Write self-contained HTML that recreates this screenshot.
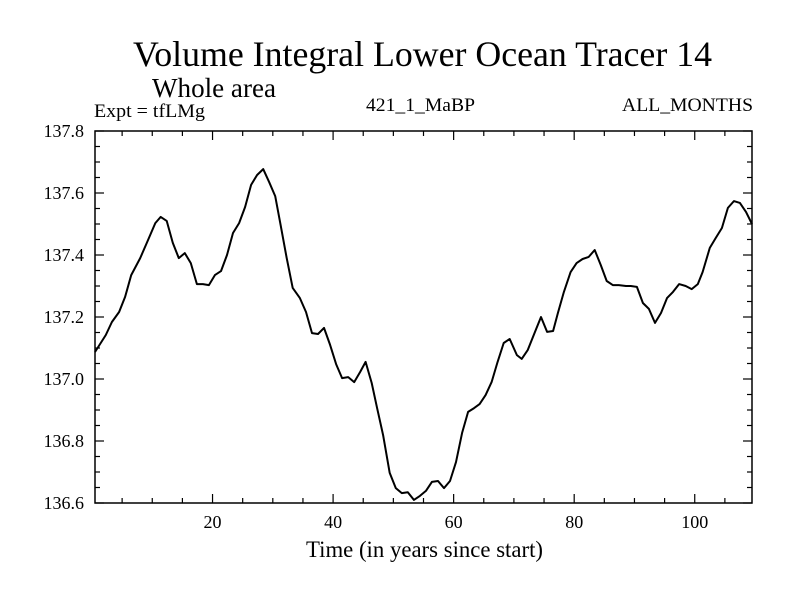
<!DOCTYPE html>
<html><head><meta charset="utf-8"><style>
html,body{margin:0;padding:0;background:#fff;}
svg{display:block;font-family:"Liberation Serif",serif;}
</style></head><body>
<svg id="chart" width="800" height="600">
<text x="133" y="66" font-size="36" textLength="579" lengthAdjust="spacingAndGlyphs">Volume Integral Lower Ocean Tracer 14</text>
<text x="152" y="97" font-size="27" textLength="124" lengthAdjust="spacingAndGlyphs">Whole area</text>
<text x="94" y="117" font-size="19" textLength="111" lengthAdjust="spacingAndGlyphs">Expt = tfLMg</text>
<text x="366" y="111" font-size="19" textLength="109" lengthAdjust="spacingAndGlyphs">421_1_MaBP</text>
<text x="622" y="111" font-size="19" textLength="131" lengthAdjust="spacingAndGlyphs">ALL_MONTHS</text>
<text x="306" y="557" font-size="23" textLength="237" lengthAdjust="spacingAndGlyphs">Time (in years since start)</text>
<g id="axes"></g>
<path id="series" fill="none" stroke="#000" stroke-width="2" stroke-linejoin="round"></path>
<rect x="95" y="131" width="657" height="372" fill="none" stroke="#000" stroke-width="1.5"></rect>
</svg>
<script>
const years = [0.5,2.3,3.3,4.5,5.5,6.5,8,9.3,10.5,11.4,12.4,13.4,14.4,15.4,16.4,17.4,18.4,19.4,20.4,21.4,22.4,23.4,24.4,25.4,26.4,27.4,28.4,29.4,30.4,31.3,32.3,33.3,34.5,35.5,36.5,37.5,38.5,39.5,40.5,41.5,42.5,43.5,44.5,45.4,46.4,47.3,48.3,49.4,50.4,51.4,52.4,53.4,54.4,55.4,56.4,57.4,58.4,59.4,60.4,61.4,62.4,63.4,64.3,65.3,66.3,67.3,68.3,69.3,70.5,71.3,72.3,73.5,74.5,75.5,76.5,77.3,78.3,79.4,80.4,81.4,82.4,83.4,84.4,85.4,86.4,87.4,88.6,89.4,90.4,91.4,92.4,93.4,94.4,95.4,96.4,97.4,98.5,99.5,100.5,101.3,102.5,103.5,104.5,105.5,106.5,107.5,108.5,109.5];
const values = [137.087,137.142,137.184,137.216,137.265,137.335,137.390,137.448,137.503,137.523,137.510,137.439,137.390,137.406,137.374,137.306,137.306,137.303,137.335,137.348,137.400,137.471,137.503,137.555,137.626,137.658,137.677,137.635,137.590,137.497,137.390,137.294,137.261,137.216,137.148,137.145,137.165,137.110,137.048,137.003,137.006,136.990,137.023,137.055,136.987,136.906,136.819,136.697,136.648,136.632,136.635,136.610,136.623,136.639,136.668,136.671,136.648,136.671,136.732,136.826,136.894,136.906,136.919,136.948,136.990,137.055,137.116,137.129,137.077,137.065,137.094,137.152,137.200,137.152,137.155,137.213,137.281,137.345,137.374,137.387,137.394,137.416,137.368,137.316,137.303,137.303,137.300,137.300,137.297,137.245,137.226,137.181,137.213,137.261,137.281,137.306,137.300,137.290,137.306,137.345,137.423,137.455,137.487,137.552,137.574,137.568,137.539,137.500];
const xTickLabels = [20,40,60,80,100];
const yTickLabels = ["136.6","136.8","137.0","137.2","137.4","137.6","137.8"];
const xMin=0.5,xMax=109.5,yMin=136.6,yMax=137.8;
const L=95,R=752,T=131,B=503;
function xs(v){return L+(v-xMin)/(xMax-xMin)*(R-L);}
function ys(v){return B-(v-yMin)/(yMax-yMin)*(B-T);}
const NS="http://www.w3.org/2000/svg";
const axes=document.getElementById('axes');
function line(x1,y1,x2,y2,name){const l=document.createElementNS(NS,'line');
l.setAttribute('x1',x1);l.setAttribute('y1',y1);l.setAttribute('x2',x2);l.setAttribute('y2',y2);
l.setAttribute('stroke','#000');l.setAttribute('stroke-width','1.2');


axes.appendChild(l);}
function text(x,y,s,anchor,name){const t=document.createElementNS(NS,'text');
t.setAttribute('x',x);t.setAttribute('y',y);t.setAttribute('font-size','18');t.setAttribute('text-anchor',anchor);t.textContent=s;


axes.appendChild(t);}
for(let v=5;v<=xMax;v+=5){const x=xs(v);const major=v%20===0;const len=major?9:5;
line(x,B,x,B-len,'x-tick');line(x,T,x,T+len,'x-tick-top');}
xTickLabels.forEach(v=>text(xs(v),528,String(v),'middle','x-tick-label'));
for(let i=0;i<=24;i++){const v=yMin+i*0.05;const y=ys(v);const major=i%4===0;const len=major?9:5;
line(L,y,L+len,y,'y-tick');line(R,y,R-len,y,'y-tick-right');}
yTickLabels.forEach(s=>text(84,ys(parseFloat(s))+6,s,'end','y-tick-label'));
let d='';years.forEach((yr,i)=>{d+=(i?'L':'M')+xs(yr).toFixed(1)+','+ys(values[i]).toFixed(1);});
document.getElementById('series').setAttribute('d',d);
</script>
</body></html>
